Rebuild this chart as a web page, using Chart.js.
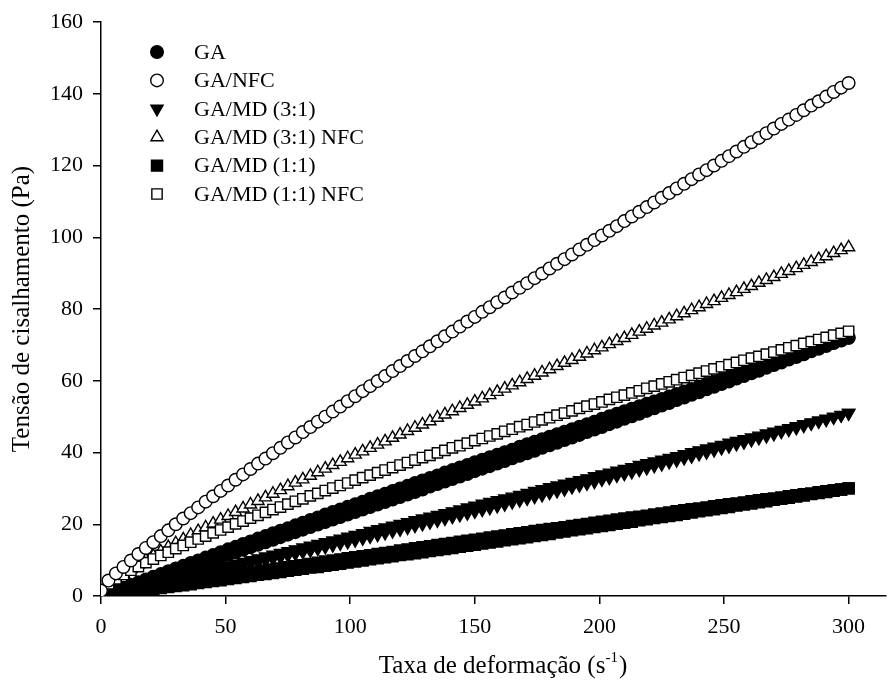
<!DOCTYPE html>
<html lang="pt">
<head>
<meta charset="UTF-8" />
<title>Tensão de cisalhamento</title>
<script src="https://cdn.jsdelivr.net/npm/chart.js"></script>
<style>
  body { margin: 0; background: #fff; overflow: hidden; }
  #wrap { width: 888px; height: 683px; }
  canvas { display: block; }
</style>
</head>
<body>
<div id="wrap"><canvas id="reo" width="888" height="683"></canvas></div>
<script>
// taxa de deformação (s-1)
const taxa = [0, 3, 6, 9, 12, 15, 18, 21, 24, 27, 30, 33, 36, 39, 42, 45, 48, 51, 54, 57,
  60, 63, 66, 69, 72, 75, 78, 81, 84, 87, 90, 93, 96, 99, 102, 105, 108, 111, 114, 117,
  120, 123, 126, 129, 132, 135, 138, 141, 144, 147, 150, 153, 156, 159, 162, 165, 168, 171, 174, 177,
  180, 183, 186, 189, 192, 195, 198, 201, 204, 207, 210, 213, 216, 219, 222, 225, 228, 231, 234, 237,
  240, 243, 246, 249, 252, 255, 258, 261, 264, 267, 270, 273, 276, 279, 282, 285, 288, 291, 294, 297, 300];

// tensão de cisalhamento (Pa); amostras sem NFC têm curva de ida e de volta
const gaIda = [0.0, 0.8, 1.5, 2.3, 3.1, 3.8, 4.6, 5.4, 6.1, 6.9, 7.7, 8.4, 9.2, 9.9, 10.7, 11.4, 12.2, 13.0, 13.7, 14.5,
  15.2, 16.0, 16.7, 17.5, 18.2, 18.9, 19.7, 20.4, 21.2, 21.9, 22.7, 23.4, 24.1, 24.9, 25.6, 26.3, 27.1, 27.8, 28.5, 29.3,
  30.0, 30.7, 31.5, 32.2, 32.9, 33.6, 34.4, 35.1, 35.8, 36.5, 37.3, 38.0, 38.7, 39.4, 40.1, 40.8, 41.6, 42.3, 43.0, 43.7,
  44.4, 45.1, 45.8, 46.5, 47.2, 47.9, 48.6, 49.4, 50.1, 50.8, 51.5, 52.2, 52.9, 53.6, 54.2, 54.9, 55.6, 56.3, 57.0, 57.7,
  58.4, 59.1, 59.8, 60.5, 61.2, 61.8, 62.5, 63.2, 63.9, 64.6, 65.3, 65.9, 66.6, 67.3, 68.0, 68.6, 69.3, 70.0, 70.7, 71.3, 72.0];
const gaVolta = [0.0, 0.7, 1.3, 2.0, 2.7, 3.4, 4.0, 4.7, 5.4, 6.1, 6.8, 7.4, 8.1, 8.8, 9.5, 10.2, 10.9, 11.5, 12.2, 12.9,
  13.6, 14.3, 15.0, 15.7, 16.4, 17.1, 17.8, 18.5, 19.2, 19.9, 20.6, 21.3, 22.0, 22.7, 23.4, 24.1, 24.8, 25.5, 26.2, 26.9,
  27.6, 28.3, 29.0, 29.7, 30.5, 31.2, 31.9, 32.6, 33.3, 34.0, 34.8, 35.5, 36.2, 36.9, 37.6, 38.4, 39.1, 39.8, 40.5, 41.3,
  42.0, 42.7, 43.5, 44.2, 44.9, 45.7, 46.4, 47.1, 47.9, 48.6, 49.4, 50.1, 50.8, 51.6, 52.3, 53.1, 53.8, 54.6, 55.3, 56.1,
  56.8, 57.6, 58.3, 59.1, 59.8, 60.6, 61.3, 62.1, 62.8, 63.6, 64.4, 65.1, 65.9, 66.6, 67.4, 68.2, 68.9, 69.7, 70.5, 71.2, 72.0];

const gaNfc = [1.5, 4.3, 6.3, 8.1, 9.9, 11.7, 13.4, 15.0, 16.7, 18.3, 20.0, 21.6, 23.1, 24.7, 26.3, 27.8, 29.3, 30.8, 32.4, 33.9,
  35.4, 36.9, 38.3, 39.8, 41.3, 42.8, 44.2, 45.7, 47.1, 48.6, 50.0, 51.4, 52.8, 54.3, 55.7, 57.1, 58.5, 59.9, 61.3, 62.7,
  64.1, 65.5, 66.9, 68.2, 69.6, 71.0, 72.4, 73.7, 75.1, 76.5, 77.8, 79.2, 80.5, 81.9, 83.2, 84.6, 85.9, 87.2, 88.6, 89.9,
  91.3, 92.6, 93.9, 95.2, 96.6, 97.9, 99.2, 100.5, 101.8, 103.1, 104.5, 105.8, 107.1, 108.4, 109.7, 111.0, 112.3, 113.6, 114.9, 116.2,
  117.5, 118.7, 120.0, 121.3, 122.6, 123.9, 125.2, 126.5, 127.7, 129.0, 130.3, 131.6, 132.8, 134.1, 135.4, 136.7, 137.9, 139.2, 140.5, 141.7, 143.0];

const gaMd31Ida = [0.0, 0.5, 1.0, 1.5, 2.0, 2.5, 3.0, 3.5, 4.0, 4.5, 5.0, 5.5, 6.0, 6.5, 7.0, 7.5, 8.0, 8.5, 9.0, 9.5,
  10.0, 10.5, 11.0, 11.5, 12.0, 12.5, 13.0, 13.5, 14.0, 14.5, 15.0, 15.5, 16.0, 16.5, 17.0, 17.5, 18.1, 18.6, 19.1, 19.6,
  20.1, 20.6, 21.1, 21.6, 22.1, 22.6, 23.1, 23.6, 24.1, 24.7, 25.2, 25.7, 26.2, 26.7, 27.2, 27.7, 28.2, 28.7, 29.3, 29.8,
  30.3, 30.8, 31.3, 31.8, 32.3, 32.8, 33.4, 33.9, 34.4, 34.9, 35.4, 35.9, 36.5, 37.0, 37.5, 38.0, 38.5, 39.0, 39.5, 40.1,
  40.6, 41.1, 41.6, 42.1, 42.7, 43.2, 43.7, 44.2, 44.7, 45.3, 45.8, 46.3, 46.8, 47.3, 47.9, 48.4, 48.9, 49.4, 50.0, 50.5, 51.0];
const gaMd31Volta = [0.0, 0.4, 0.9, 1.3, 1.7, 2.2, 2.6, 3.1, 3.5, 4.0, 4.4, 4.9, 5.3, 5.8, 6.2, 6.7, 7.1, 7.6, 8.1, 8.5,
  9.0, 9.4, 9.9, 10.4, 10.8, 11.3, 11.8, 12.3, 12.7, 13.2, 13.7, 14.2, 14.7, 15.1, 15.6, 16.1, 16.6, 17.1, 17.6, 18.1,
  18.6, 19.1, 19.6, 20.1, 20.6, 21.1, 21.6, 22.1, 22.6, 23.1, 23.6, 24.1, 24.6, 25.1, 25.6, 26.2, 26.7, 27.2, 27.7, 28.2,
  28.8, 29.3, 29.8, 30.4, 30.9, 31.4, 31.9, 32.5, 33.0, 33.6, 34.1, 34.6, 35.2, 35.7, 36.3, 36.8, 37.4, 37.9, 38.5, 39.0,
  39.6, 40.1, 40.7, 41.3, 41.8, 42.4, 42.9, 43.5, 44.1, 44.6, 45.2, 45.8, 46.4, 46.9, 47.5, 48.1, 48.7, 49.2, 49.8, 50.4, 51.0];

const gaMd31Nfc = [1.0, 3.3, 4.8, 6.2, 7.5, 8.8, 10.0, 11.2, 12.4, 13.6, 14.7, 15.8, 17.0, 18.1, 19.1, 20.2, 21.3, 22.3, 23.4, 24.4,
  25.5, 26.5, 27.5, 28.5, 29.5, 30.6, 31.6, 32.5, 33.5, 34.5, 35.5, 36.5, 37.4, 38.4, 39.4, 40.3, 41.3, 42.2, 43.1, 44.1,
  45.0, 46.0, 46.9, 47.8, 48.7, 49.7, 50.6, 51.5, 52.4, 53.3, 54.2, 55.1, 56.0, 56.9, 57.8, 58.7, 59.6, 60.5, 61.4, 62.3,
  63.2, 64.1, 65.0, 65.8, 66.7, 67.6, 68.5, 69.3, 70.2, 71.1, 71.9, 72.8, 73.7, 74.5, 75.4, 76.2, 77.1, 78.0, 78.8, 79.7,
  80.5, 81.4, 82.2, 83.1, 83.9, 84.7, 85.6, 86.4, 87.3, 88.1, 88.9, 89.8, 90.6, 91.4, 92.3, 93.1, 93.9, 94.7, 95.6, 96.4, 97.2];

const gaMd11Ida = [0.0, 0.3, 0.7, 1.0, 1.3, 1.6, 2.0, 2.3, 2.6, 2.9, 3.2, 3.6, 3.9, 4.2, 4.5, 4.8, 5.2, 5.5, 5.8, 6.1,
  6.4, 6.8, 7.1, 7.4, 7.7, 8.0, 8.3, 8.6, 8.9, 9.3, 9.6, 9.9, 10.2, 10.5, 10.8, 11.1, 11.4, 11.7, 12.0, 12.3,
  12.7, 13.0, 13.3, 13.6, 13.9, 14.2, 14.5, 14.8, 15.1, 15.4, 15.7, 16.0, 16.3, 16.6, 16.9, 17.2, 17.5, 17.8, 18.1, 18.4,
  18.7, 18.9, 19.2, 19.5, 19.8, 20.1, 20.4, 20.7, 21.0, 21.3, 21.6, 21.9, 22.1, 22.4, 22.7, 23.0, 23.3, 23.6, 23.9, 24.2,
  24.4, 24.7, 25.0, 25.3, 25.6, 25.8, 26.1, 26.4, 26.7, 27.0, 27.2, 27.5, 27.8, 28.1, 28.4, 28.6, 28.9, 29.2, 29.5, 29.7, 30.0];
const gaMd11Volta = [0.0, 0.3, 0.5, 0.8, 1.1, 1.4, 1.6, 1.9, 2.2, 2.5, 2.8, 3.0, 3.3, 3.6, 3.9, 4.2, 4.4, 4.7, 5.0, 5.3,
  5.6, 5.9, 6.1, 6.4, 6.7, 7.0, 7.3, 7.6, 7.9, 8.1, 8.4, 8.7, 9.0, 9.3, 9.6, 9.9, 10.2, 10.5, 10.8, 11.1,
  11.4, 11.6, 11.9, 12.2, 12.5, 12.8, 13.1, 13.4, 13.7, 14.0, 14.3, 14.6, 14.9, 15.2, 15.5, 15.8, 16.1, 16.4, 16.7, 17.0,
  17.3, 17.7, 18.0, 18.3, 18.6, 18.9, 19.2, 19.5, 19.8, 20.1, 20.4, 20.7, 21.1, 21.4, 21.7, 22.0, 22.3, 22.6, 22.9, 23.3,
  23.6, 23.9, 24.2, 24.5, 24.8, 25.2, 25.5, 25.8, 26.1, 26.4, 26.8, 27.1, 27.4, 27.7, 28.0, 28.4, 28.7, 29.0, 29.3, 29.7, 30.0];

const gaMd11Nfc = [1.2, 3.4, 4.8, 6.0, 7.2, 8.2, 9.3, 10.3, 11.3, 12.2, 13.2, 14.1, 15.0, 15.9, 16.7, 17.6, 18.4, 19.2, 20.1, 20.9,
  21.7, 22.5, 23.3, 24.1, 24.8, 25.6, 26.4, 27.1, 27.9, 28.6, 29.4, 30.1, 30.8, 31.5, 32.3, 33.0, 33.7, 34.4, 35.1, 35.8,
  36.5, 37.2, 37.9, 38.6, 39.2, 39.9, 40.6, 41.3, 41.9, 42.6, 43.3, 43.9, 44.6, 45.2, 45.9, 46.5, 47.2, 47.8, 48.5, 49.1,
  49.7, 50.4, 51.0, 51.6, 52.3, 52.9, 53.5, 54.1, 54.8, 55.4, 56.0, 56.6, 57.2, 57.9, 58.5, 59.1, 59.7, 60.3, 60.9, 61.5,
  62.1, 62.7, 63.3, 63.9, 64.5, 65.1, 65.7, 66.3, 66.8, 67.4, 68.0, 68.6, 69.2, 69.8, 70.4, 70.9, 71.5, 72.1, 72.7, 73.2, 73.8];

const amostras = ['GA', 'GA/NFC', 'GA/MD (3:1)', 'GA/MD (3:1) NFC', 'GA/MD (1:1)', 'GA/MD (1:1) NFC'];
const xTicks = [0, 50, 100, 150, 200, 250, 300];
const yTicks = [0, 20, 40, 60, 80, 100, 120, 140, 160];

const serif = "'Liberation Serif', 'Times New Roman', 'DejaVu Serif', serif";

// marcador de cada amostra: cheio = sem NFC, vazio = com NFC
const estilos = [
  { pointStyle: 'circle',   rotation: 0,   radius: 6.3, fill: '#000', order: 6 },
  { pointStyle: 'circle',   rotation: 0,   radius: 6.3, fill: '#fff', order: 1 },
  { pointStyle: 'triangle', rotation: 180, radius: 7.0, fill: '#000', order: 5 },
  { pointStyle: 'triangle', rotation: 0,   radius: 7.0, fill: '#fff', order: 3 },
  { pointStyle: 'rect',     rotation: 0,   radius: 7.8, fill: '#000', order: 4 },
  { pointStyle: 'rect',     rotation: 0,   radius: 7.3, fill: '#fff', order: 2 }
];

// cada amostra: lista de curvas (ida / volta)
const curvas = [
  [gaIda, gaVolta],
  [gaNfc],
  [gaMd31Ida, gaMd31Volta],
  [gaMd31Nfc],
  [gaMd11Ida, gaMd11Volta],
  [gaMd11Nfc]
];

const datasets = curvas.map((lista, i) => ({
  label: amostras[i],
  data: lista.flatMap(ys => taxa.map((x, j) => ({ x: x, y: ys[j] }))),
  pointStyle: estilos[i].pointStyle,
  rotation: estilos[i].rotation,
  pointRadius: estilos[i].radius,
  pointBackgroundColor: estilos[i].fill,
  pointBorderColor: '#000',
  pointBorderWidth: 1.4,
  showLine: false,
  order: estilos[i].order
}));

// legenda dentro da área do gráfico e título do eixo x
const textos = {
  id: 'textos',
  afterDraw(chart) {
    const ctx = chart.ctx;
    const area = chart.chartArea;
    ctx.save();
    ctx.font = '22px ' + serif;
    ctx.textBaseline = 'middle';
    ctx.textAlign = 'left';
    amostras.forEach((nome, i) => {
      const y = area.top + 30 + i * 28.4;
      const mx = area.left + 56;
      const e = estilos[i];
      ctx.fillStyle = e.fill;
      ctx.strokeStyle = '#000';
      ctx.lineWidth = 1.4;
      Chart.helpers.drawPoint(ctx, {
        pointStyle: e.pointStyle, rotation: e.rotation, radius: e.radius, borderWidth: 1.4
      }, mx, y);
      ctx.fillStyle = '#000';
      ctx.fillText(nome, area.left + 93, y + 1);
    });

    // título do eixo x, com o expoente em sobrescrito
    const base = 'Taxa de deformação (s';
    const sup = '-1';
    ctx.font = '25px ' + serif;
    const wBase = ctx.measureText(base).width;
    ctx.font = '15px ' + serif;
    const wSup = ctx.measureText(sup).width;
    ctx.font = '25px ' + serif;
    const wFim = ctx.measureText(')').width;
    let x = 503 - (wBase + wSup + wFim + 1) / 2;
    const y = 673;
    ctx.textBaseline = 'alphabetic';
    ctx.fillText(base, x, y);
    x += wBase;
    ctx.font = '15px ' + serif;
    ctx.fillText(sup, x, y - 11);
    x += wSup + 1;
    ctx.font = '25px ' + serif;
    ctx.fillText(')', x, y);
    ctx.restore();
  }
};

new Chart(document.getElementById('reo'), {
  type: 'scatter',
  data: { datasets: datasets },
  plugins: [textos],
  options: {
    responsive: false,
    devicePixelRatio: 1,
    animation: false,
    layout: { autoPadding: false, padding: { top: 22, right: 2, left: 0, bottom: 0 } },
    plugins: { legend: { display: false }, tooltip: { enabled: false } },
    scales: {
      x: {
        type: 'linear',
        min: 0,
        max: 315,
        afterFit(s) { s.height = 87; s.paddingLeft = 0; s.paddingRight = 0; },
        afterBuildTicks(s) { s.ticks = xTicks.map(v => ({ value: v })); },
        border: { display: true, color: '#000', width: 1.5 },
        grid: { drawOnChartArea: false, drawTicks: true, tickLength: 8, color: '#000', lineWidth: 1.5 },
        ticks: { color: '#000', padding: 10, maxRotation: 0, font: { family: serif, size: 22 } },
        title: { display: false }
      },
      y: {
        min: 0,
        max: 160,
        afterFit(s) { s.width = 101; s.paddingTop = 0; s.paddingBottom = 0; },
        afterBuildTicks(s) { s.ticks = yTicks.map(v => ({ value: v })); },
        border: { display: true, color: '#000', width: 1.5 },
        grid: { drawOnChartArea: false, drawTicks: true, tickLength: 8, color: '#000', lineWidth: 1.5 },
        ticks: { color: '#000', padding: 10, font: { family: serif, size: 22 } },
        title: {
          display: true,
          text: 'Tensão de cisalhamento (Pa)',
          color: '#000',
          font: { family: serif, size: 25 },
          padding: { top: 7, bottom: 0 }
        }
      }
    }
  }
});
</script>
</body>
</html>
